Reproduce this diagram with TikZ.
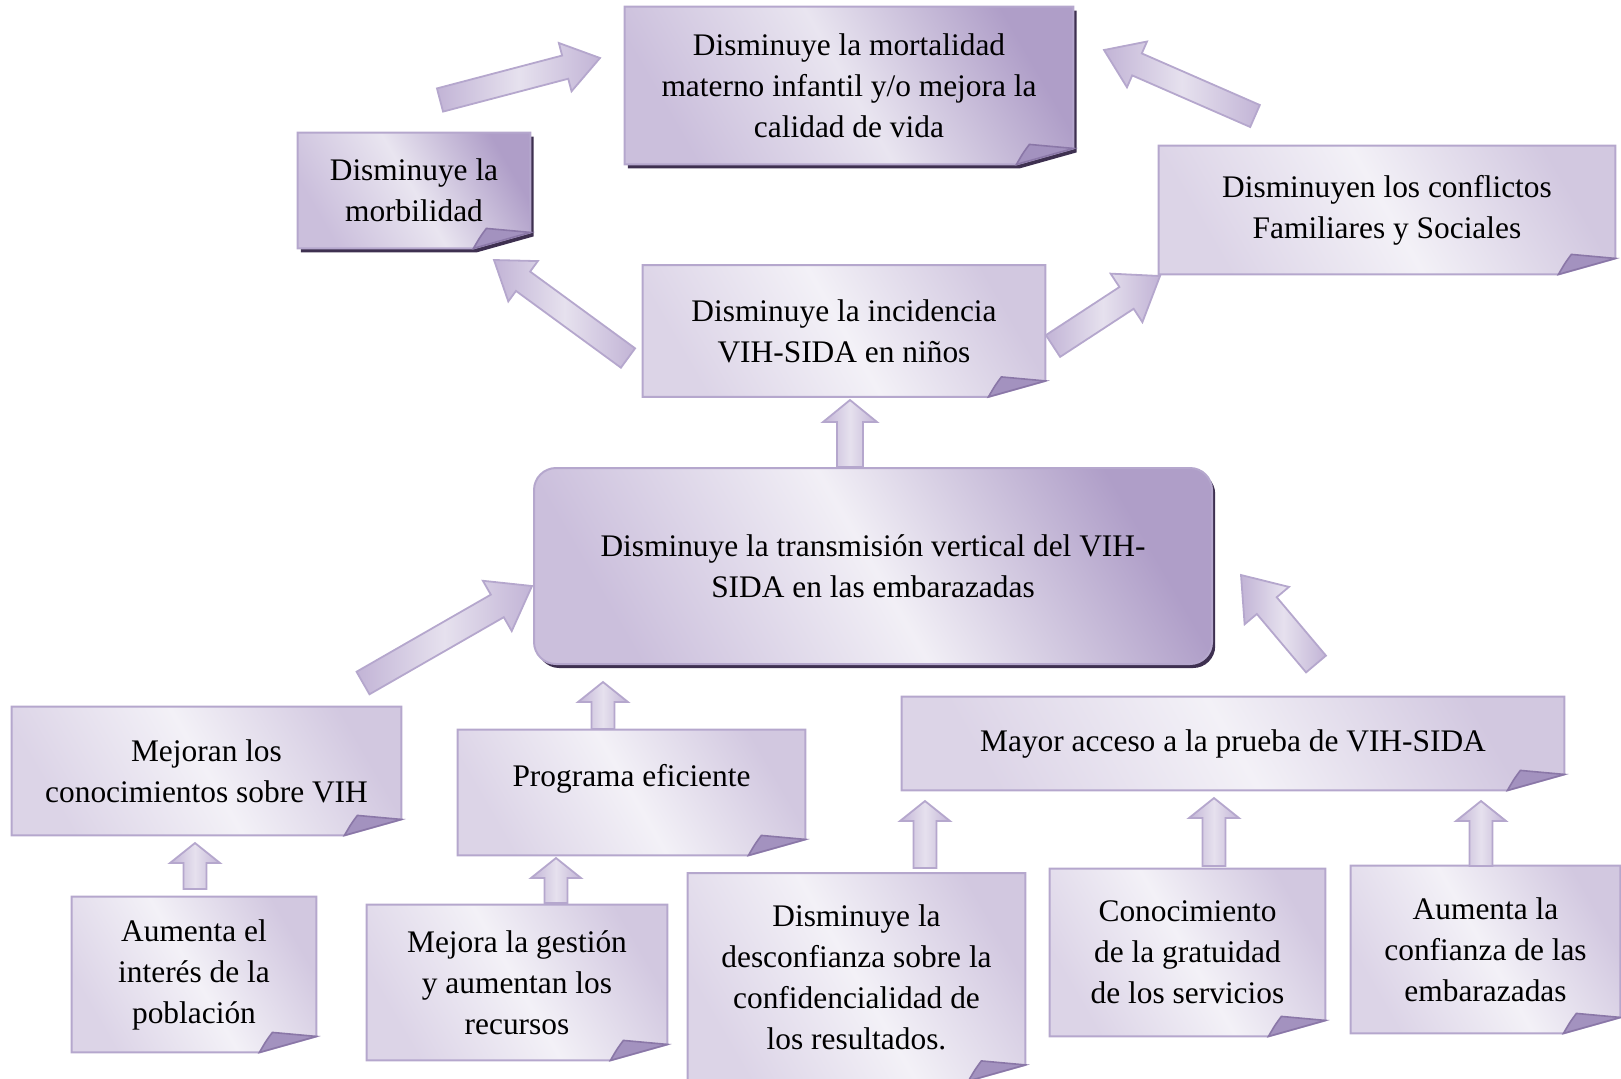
\documentclass[tikz,border=0pt]{standalone}
\usepackage{fontspec}
\setmainfont{Liberation Serif}
\usetikzlibrary{calc,backgrounds,shadows}

\definecolor{borde}{HTML}{B5A7CD}
\definecolor{sombra}{HTML}{3E3050}
\definecolor{doblezA}{HTML}{A392BF}
\definecolor{doblezB}{HTML}{8A77A7}
\definecolor{claraA}{HTML}{DCD4E7}
\definecolor{claraM}{HTML}{F3F1F7}
\definecolor{claraB}{HTML}{D2C8E0}
\definecolor{oscuraA}{HTML}{CBBFDC}
\definecolor{oscuraM}{HTML}{E9E5F0}
\definecolor{oscuraB}{HTML}{AF9EC8}
\definecolor{flechaA}{HTML}{C2B4D6}
\definecolor{flechaM}{HTML}{E6E1EE}

% Hoja con esquina doblada
\newcommand{\hoja}[2][clara]{%
  \shadedraw[#1] (#2.north west) -- (#2.north east) -- ($(#2.south east)+(0,-16)$)
    -- ($(#2.south east)+(-57,0)$) -- (#2.south west) -- cycle;
  \filldraw[doblez] ($(#2.south east)+(-57,0)$) .. controls ($(#2.south east)+(-50,-12)$) ..
    ($(#2.south east)+(-44,-20)$) -- ($(#2.south east)+(0,-16)$) -- cycle;}

% Flecha de bloque: cola, punta, semiancho, semiancho cabeza, largo cabeza
\newcommand{\flecha}[5]{%
  \coordinate (base) at ($(#2)!#5!(#1)$);
  \shadedraw[flechabloque] ($(#1)!#3!90:(#2)$) -- ($(base)!#3!-90:(#1)$) -- ($(base)!#4!-90:(#1)$)
    -- (#2) -- ($(base)!#4!90:(#1)$) -- ($(base)!#3!90:(#1)$) -- ($(#1)!#3!-90:(#2)$) -- cycle;}

\begin{document}
\begin{tikzpicture}[
    x=0.5pt, y=-0.5pt,
    caja/.style={inner sep=0pt, align=center, font=\fontsize{15.7pt}{20.5pt}\selectfont},
    clara/.style={draw=borde, line width=1pt, left color=claraA, right color=claraB,
        middle color=claraM, shading angle=120},
    oscura/.style={draw=borde, line width=1pt, left color=oscuraA, right color=oscuraB,
        middle color=oscuraM, shading angle=120,
        drop shadow={shadow xshift=1.6pt, shadow yshift=-2pt, fill=sombra, opacity=1}},
    doblez/.style={draw=doblezB, line width=0.8pt, fill=doblezA},
    flechabloque/.style={draw=borde, line width=0.9pt, left color=flechaA, right color=flechaA,
        middle color=flechaM, shading angle=90}
]

\useasboundingbox (0,0) rectangle (1621,1078);
\clip (0,0) rectangle (1621,1078);

% Nivel superior
\node[caja, minimum width=224pt, minimum height=78.5pt] (mort) at (849,85.5)
    {Disminuye la mortalidad\\materno infantil y/o mejora la\\calidad de vida};
\node[caja, minimum width=116pt, minimum height=57.5pt] (morb) at (414,190.5)
    {Disminuye la\\morbilidad};
\node[caja, minimum width=228pt, minimum height=64pt] (conf) at (1387,210)
    {Disminuyen los conflictos\\Familiares y Sociales};
\node[caja, minimum width=201pt, minimum height=65.5pt] (inc) at (844,331)
    {Disminuye la incidencia\\VIH-SIDA en niños};

% Objetivo central
\node[caja, oscura, rounded corners=11pt, middle color=oscuraM!60!white, minimum width=339pt,
    minimum height=98pt] (trans) at (873,566)
    {Disminuye la transmisión vertical del VIH-\\SIDA en las embarazadas};

% Nivel intermedio
\node[caja, minimum width=194.5pt, minimum height=64pt] (mej) at (206.5,771)
    {Mejoran los\\conocimientos sobre VIH};
\node[caja, text depth=17pt, minimum width=173.5pt, minimum height=62.5pt] (prog) at (631.5,792.5)
    {Programa eficiente};
\node[caja, minimum width=331pt, minimum height=46.5pt] (acc) at (1233,743.5)
    {Mayor acceso a la prueba de VIH-SIDA};

% Nivel inferior
\node[caja, minimum width=122pt, minimum height=77.5pt] (int) at (194,974.5)
    {Aumenta el\\interés de la\\población};
\node[caja, minimum width=150pt, minimum height=77.5pt] (ges) at (517,982.5)
    {Mejora la gestión\\y aumentan los\\recursos};
\node[caja, minimum width=168.5pt, minimum height=103.5pt] (desc) at (856.5,977)
    {Disminuye la\\desconfianza sobre la\\confidencialidad de\\los resultados.};
\node[caja, minimum width=137.5pt, minimum height=83.5pt] (con) at (1187.5,952.5)
    {Conocimiento\\de la gratuidad\\de los servicios};
\node[caja, minimum width=134.5pt, minimum height=83.5pt] (conz) at (1485.5,949.5)
    {Aumenta la\\confianza de las\\embarazadas};

% Fondos de las hojas
\begin{scope}[on background layer]
\hoja[oscura]{mort}
\hoja[oscura]{morb}
\hoja{conf}
\hoja{inc}
\hoja{mej}
\hoja{prog}
\hoja{acc}
\hoja{int}
\hoja{ges}
\hoja{desc}
\hoja{con}
\hoja{conz}
\end{scope}

% Extremos de las flechas
\coordinate (morb-c) at (440,100);   \coordinate (morb-p) at (600,58);
\coordinate (conf-c) at (1255,116);  \coordinate (conf-p) at (1104,50);
\coordinate (inc-c1) at (628,358);   \coordinate (inc-p1) at (494,260);
\coordinate (inc-c2) at (1053,346);  \coordinate (inc-p2) at (1160,276);
\coordinate (trans-c) at (850,467);  \coordinate (trans-p) at (850,400);
\coordinate (mej-c) at (363,683);    \coordinate (mej-p) at (532,586);
\coordinate (prog-c) at (603,729);   \coordinate (prog-p) at (603,682);
\coordinate (acc-c) at (1316,664);   \coordinate (acc-p) at (1241,575);
\coordinate (int-c) at (195,889);    \coordinate (int-p) at (195,843);
\coordinate (ges-c) at (556,903);    \coordinate (ges-p) at (556,858);
\coordinate (desc-c) at (925,868);   \coordinate (desc-p) at (925,801);
\coordinate (con-c) at (1214,866);   \coordinate (con-p) at (1214,798);
\coordinate (conz-c) at (1481,866);  \coordinate (conz-p) at (1481,801);

% Flechas
\flecha{morb-c}{morb-p}{6pt}{12.5pt}{18pt}
\flecha{conf-c}{conf-p}{6pt}{12.5pt}{18pt}
\flecha{inc-c1}{inc-p1}{6pt}{12.5pt}{18pt}
\flecha{inc-c2}{inc-p2}{6.5pt}{14.5pt}{20pt}
\flecha{mej-c}{mej-p}{6.5pt}{14.5pt}{20pt}
\flecha{acc-c}{acc-p}{6.5pt}{14.5pt}{20pt}
\flecha{trans-c}{trans-p}{6.5pt}{13.5pt}{11pt}
\flecha{prog-c}{prog-p}{5.75pt}{12.5pt}{10pt}
\flecha{int-c}{int-p}{5.75pt}{12.5pt}{10pt}
\flecha{ges-c}{ges-p}{5.75pt}{12.5pt}{10pt}
\flecha{desc-c}{desc-p}{5.75pt}{12.5pt}{10pt}
\flecha{con-c}{con-p}{5.75pt}{12.5pt}{10pt}
\flecha{conz-c}{conz-p}{5.75pt}{12.5pt}{10pt}

\end{tikzpicture}
\end{document}
